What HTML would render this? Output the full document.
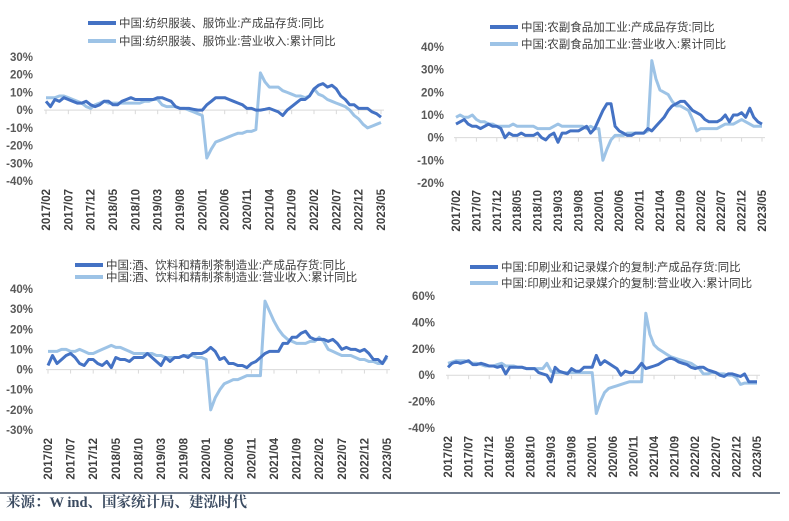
<!DOCTYPE html>
<html><head><meta charset="utf-8">
<style>
html,body{margin:0;padding:0;background:#fff;}
body{width:789px;height:521px;overflow:hidden;position:relative;font-family:"Liberation Sans","Noto Sans CJK SC",sans-serif;}
svg{position:absolute;left:0;top:0;}
</style></head>
<body>
<svg id="chart" width="789" height="521" viewBox="0 0 789 521" xmlns="http://www.w3.org/2000/svg"></svg>
<script>
const categories = (function(){const a=[];for(let i=0;i<76;i++){const m=1+i;const y=2017+Math.floor(m/12);const mo=(m%12)+1;a.push(y+"/"+(mo<10?"0"+mo:mo));}return a;})();
const tickLabels = ["2017/02","2017/07","2017/12","2018/05","2018/10","2019/03","2019/08","2020/01","2020/06","2020/11","2021/04","2021/09","2022/02","2022/07","2022/12","2023/05"];

const textileInventory = [5,2,6,5,7, 6,5,4,4,5, 3,2,3,5,5, 3,3,5,6,7, 6,6,6,6,6, 7,7,6,5,2, 1,1,1,0.5,0, 0,3,5,7,7, 7,6,5,4,3, 1,1,0,0,0.5, 1,0,-1,-3,0, 2,4,6,6,8, 12,14,15,13,14, 12,8,6,3,3, 1,1,1,-1,-2, -4];
const textileRevenue = [7,7,7,8,8,7,6,5,4,2, 1,3,4,5,4,4,4,4,4,4, 4,4,5,5,6,6,3,2,2,2, 1,1,0,-1,-2, -3, -27, -22,-18,-17,-16, -15,-14,-13,-13,-12,-12,-11, 21, 16,13,13,13,11,10, 9,8,8,7,8, 12, 9,8,6,5, 4,3,2,0,-3, -5,-8,-10,-9,-8, -7];

const foodInventory = [6,7,8,6,5, 5,4,5,6,5, 5,4,0,2,1, 1,2,1,1,1, 2,0,-1,1,2, -2,2,2,3,3, 3,4,5,2,4, 8,12,15,15,5, 3,2,1,1,2, 2,2,4,3,5, 7,9,12,14,15, 16,16,14,12,11, 10,8,7,7,7, 8,10,7,10,10, 11,9,13,9,7, 6];
const foodRevenue = [9,10,9,9,10, 8,7,7,6,6, 5,5,5,5,6, 5,5,5,5,5, 4,4,4,4,5, 6,5,5,5,5, 5,5,4,5,4, 4,-10,-5,-1,1, 1,1,2,2,2, 2,2,3,34,26, 21,20,19,16,14, 14,13,12,8,3, 4,4,4,4,4, 5,6,6,6,7, 8,7,6,5,5, 5];

const beverageInventory = [2,7,3,5,7, 8,6,3,2,5, 5,3,2,4,1, 6,5,5,4,6, 6,6,8,6,4, 2,6,4,6,6, 7,6,8,8,8, 9,11,9,5,6, 3,3,2,2,1, 3,4,6,8,9, 9,9,13,13,16, 16,18,19,16,15, 15,15,14,15,13, 10,11,10,10,9, 10,8,5,5,3, 7];
const beverageRevenue = [9,9,9,10,10,9,9,10,9,8, 8,9,10,11,12,11,11,10,9,8, 8,8,8,8,7,7,6,6,6,6, 7,7,7,6,6,5, -20, -14,-10,-7,-6,-5,-5,-4,-3,-3,-3,-3, 34, 29,24,20,17,15,14,13,13,13,14,14, 16,14,10,9,8,7,7,7,6,5, 5,4,4,3,3,6];

const printInventory = [6,9,10,9,10, 11,8,8,9,8, 7,7,6,7,1, 6,6,6,6,5, 5,5,2,1,0, -5,6,3,2,1, 5,3,3,6,6, 6,15,8,11,9, 7,5,0,3,2, 2,5,9,5,6, 7,8,10,12,13, 12,10,9,8,6, 5,6,6,4,3, 2,0,-1,1,1, 0,-1,1,-5,-5, -5];
const printRevenue = [9,10,11,11,11,10,9,9,8,7, 7,7,8,9,7,7,7,6,6,5, 5,5,5,5,9,3,2,2,2,2, 2,2,2,2,2,2, -29, -20,-13,-10,-9,-8,-7,-6,-5,-5,-5,-5, 47, 31,23,20,18,16,14,13,12,11,10,9, 7,5,1,1,2,2,1,1,0,0, -2,-7,-6,-6,-6,-6];

const panel1Ticks = [30,20,10,0,-10,-20,-30,-40];
const panel2Ticks = [40,30,20,10,0,-10,-20];
const panel3Ticks = [40,30,20,10,0,-10,-20,-30];
const panel4Ticks = [60,40,20,0,-20,-40];

const panels = [
 {key:"textile", inv:textileInventory, rev:textileRevenue, ticks:panel1Ticks,
  x0:46, x1:381, yTop:57, yBot:181, vTop:30, vBot:-40, ylabX:33, tickLabY:189,
  legX:88, legY:[23,41],
  names:["中国:纺织服装、服饰业:产成品存货:同比","中国:纺织服装、服饰业:营业收入:累计同比"]},
 {key:"food", inv:foodInventory, rev:foodRevenue, ticks:panel2Ticks,
  x0:456, x1:762, yTop:47, yBot:183, vTop:40, vBot:-20, ylabX:444, tickLabY:190,
  legX:490, legY:[27,44],
  names:["中国:农副食品加工业:产成品存货:同比","中国:农副食品加工业:营业收入:累计同比"]},
 {key:"beverage", inv:beverageInventory, rev:beverageRevenue, ticks:panel3Ticks,
  x0:48, x1:387, yTop:289, yBot:430, vTop:40, vBot:-30, ylabX:33, tickLabY:438,
  legX:75, legY:[265,277],
  names:["中国:酒、饮料和精制茶制造业:产成品存货:同比","中国:酒、饮料和精制茶制造业:营业收入:累计同比"]},
 {key:"printing", inv:printInventory, rev:printRevenue, ticks:panel4Ticks,
  x0:448, x1:757, yTop:296, yBot:428, vTop:60, vBot:-40, ylabX:435, tickLabY:436,
  legX:470, legY:[267,283],
  names:["中国:印刷业和记录媒介的复制:产成品存货:同比","中国:印刷业和记录媒介的复制:营业收入:累计同比"]}
];

const DARK="#4472C4", LIGHT="#9DC3E6";
const svg=document.getElementById("chart");
const NS="http://www.w3.org/2000/svg";
function mk(tag,attrs){const e=document.createElementNS(NS,tag);for(const k in attrs)e.setAttribute(k,attrs[k]);return e;}

panels.forEach(function(p){
  const g=mk("g",{});
  
  
  svg.appendChild(g);
  const n=categories.length;
  const xs=function(i){return p.x0+(p.x1-p.x0)*i/(n-1);};
  const ys=function(v){return p.yTop+(p.vTop-v)*(p.yBot-p.yTop)/(p.vTop-p.vBot);};
  p.ticks.forEach(function(t){
    const tx=mk("text",{x:p.ylabX,y:ys(t)+4,"text-anchor":"end","font-size":"11.5","font-weight":"bold",fill:"#595959"});
    tx.textContent=t+"%";
    
    
    g.appendChild(tx);
  });
  const y0=ys(0);
  const ax=mk("line",{x1:p.x0-2,x2:p.x1+3,y1:y0,y2:y0,stroke:"#d9d9d9","stroke-width":1});
  
  
  g.appendChild(ax);
  for(let i=0;i<n;i+=5){
    const tk=mk("line",{x1:xs(i),x2:xs(i),y1:y0,y2:y0+4,stroke:"#d9d9d9","stroke-width":1});
    
    
    g.appendChild(tk);
  }
  tickLabels.forEach(function(lab){
    const i=categories.indexOf(lab);
    const x=xs(i)+4;
    const tx=mk("text",{x:x,y:p.tickLabY,transform:"rotate(-90 "+x+" "+p.tickLabY+")","text-anchor":"end","font-size":"11.5","font-weight":"bold",fill:"#404040"});
    tx.textContent=lab;
    
    
    g.appendChild(tx);
  });
  [[p.rev,LIGHT,"revenue"],[p.inv,DARK,"inventory"]].forEach(function(s){
    let d="";
    s[0].forEach(function(v,i){d+=(i?"L":"M")+xs(i).toFixed(1)+","+ys(v).toFixed(1);});
    const path=mk("path",{d:d,fill:"none",stroke:s[1],"stroke-width":3,"stroke-linejoin":"round"});
    
    
    g.appendChild(path);
  });
  [[DARK,0],[LIGHT,1]].forEach(function(l){
    const y=p.legY[l[1]];
    const ln=mk("line",{x1:p.legX,x2:p.legX+28,y1:y,y2:y,stroke:l[0],"stroke-width":4});
    
    
    g.appendChild(ln);
    const tx=mk("text",{x:p.legX+31,y:y+4,"font-size":"11.5",fill:"#404040"});
    tx.textContent=p.names[l[1]];
    
    
    g.appendChild(tx);
  });
});

const sep=mk("line",{x1:0,x2:780,y1:493,y2:493,stroke:"#44546A","stroke-width":1.5});


svg.appendChild(sep);
const src=mk("text",{x:6,y:507,"font-size":"14.5","font-weight":"bold",fill:"#3a4a60","font-family":"\"Liberation Serif\",\"Noto Serif CJK SC\",serif"});
src.textContent="来源：W ind、国家统计局、建泓时代";


svg.appendChild(src);
</script>
</body></html>
